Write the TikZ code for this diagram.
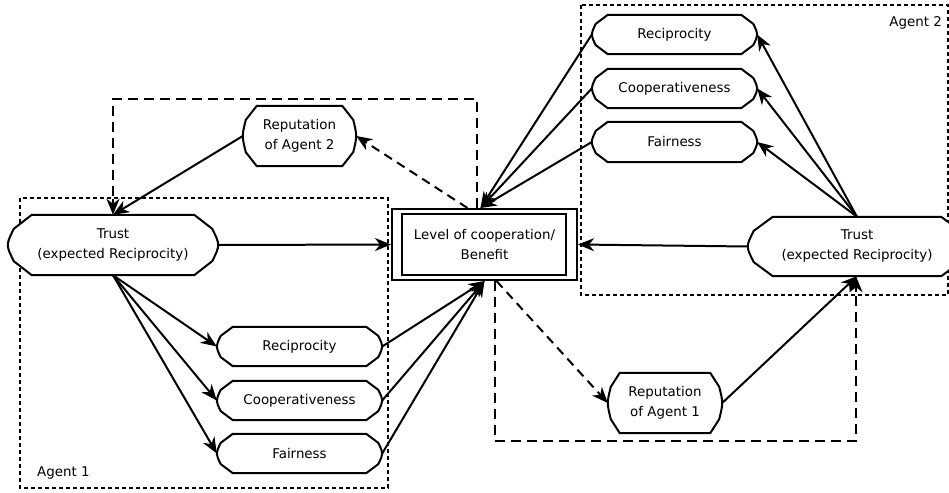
\documentclass[tikz,border=0pt]{standalone}
\usepackage{fontspec}
\setmainfont{DejaVu Sans}
\usetikzlibrary{arrows.meta,backgrounds}
\pgfdeclarelayer{shapes}
\pgfsetlayers{background,shapes,main}

\tikzset{
  lbl/.style={inner sep=0pt, align=center, font=\fontsize{13.4}{20}\selectfont},
  shapeline/.style={line width=2pt, fill=white, line join=miter},
  arr/.style={line width=2pt, -{Stealth[length=16pt,width=13pt,inset=5pt]}},
  dasharr/.style={arr, dash pattern=on 9pt off 6pt},
  agentbox/.style={line width=2pt, dash pattern=on 4pt off 3pt},
  loopline/.style={line width=2pt, dash pattern=on 10pt off 6pt},
}

% chamfered box with bulging sides: name, chamfer width, chamfer height, bulge
\newcommand\octo[4]{%
  \begin{pgfonlayer}{shapes}
  \draw[shapeline] ([xshift=#2pt]#1.north west) -- ([xshift=-#2pt]#1.north east)
    -- ([xshift=-#4pt,yshift=-#3pt]#1.north east)
    .. controls ([xshift={#4pt/3}]#1.east) and ([xshift={#4pt/3}]#1.east)
    .. ([xshift=-#4pt,yshift=#3pt]#1.south east)
    -- ([xshift=-#2pt]#1.south east) -- ([xshift=#2pt]#1.south west)
    -- ([xshift=#4pt,yshift=#3pt]#1.south west)
    .. controls ([xshift={-#4pt/3}]#1.west) and ([xshift={-#4pt/3}]#1.west)
    .. ([xshift=#4pt,yshift=-#3pt]#1.north west) -- cycle;
  \end{pgfonlayer}}

\begin{document}
\begin{tikzpicture}[x=1pt,y=-1pt]
\useasboundingbox (0,0) rectangle (949,492);

% agent frames
\begin{pgfonlayer}{background}
  \draw[agentbox] (20,198) rectangle (388,488);
  \draw[agentbox] (581,5) rectangle (948,295);
\end{pgfonlayer}
\node[lbl, anchor=west] (ag1) at (37,473) {Agent 1};
\node[lbl, anchor=east] (ag2) at (942,23) {Agent 2};

% central node
\node[lbl, draw, line width=2pt, minimum width=185pt, minimum height=71pt] (lv) at (484.5,244.5)
  {Level of cooperation/\\Benefit};
\draw[line width=2pt] ([xshift=11pt,yshift=-6pt]lv.north west) rectangle ([xshift=-12pt,yshift=6pt]lv.south east);

% trust nodes
\node[lbl, minimum width=210pt, minimum height=60pt] (t1) at (113,245) {Trust\\(expected Reciprocity)};
\octo{t1}{24}{14}{6}
\node[lbl, minimum width=218pt, minimum height=59pt] (t2) at (857,246.5) {Trust\\(expected Reciprocity)};
\octo{t2}{25}{14}{6}

% reputation nodes
\node[lbl, minimum width=113pt, minimum height=60pt] (rep2) at (299.5,136) {Reputation\\of Agent 2};
\octo{rep2}{14}{14}{3}
\node[lbl, minimum width=114pt, minimum height=60pt] (rep1) at (665,403) {Reputation\\of Agent 1};
\octo{rep1}{12}{14}{3}

% attribute nodes, agent 1
\node[lbl, minimum width=165pt, minimum height=39pt] (ra1) at (299.5,346.5) {Reciprocity};
\octo{ra1}{16}{9}{4}
\node[lbl, minimum width=165pt, minimum height=39pt] (ca1) at (299.5,400.5) {Cooperativeness};
\octo{ca1}{16}{9}{4}
\node[lbl, minimum width=165pt, minimum height=39pt] (fa1) at (299.5,453.5) {Fairness};
\octo{fa1}{16}{9}{4}

% attribute nodes, agent 2
\node[lbl, minimum width=165pt, minimum height=39pt] (ra2) at (674.5,34.5) {Reciprocity};
\octo{ra2}{16}{9}{4}
\node[lbl, minimum width=165pt, minimum height=39pt] (ca2) at (674.5,88.5) {Cooperativeness};
\octo{ca2}{16}{9}{4}
\node[lbl, minimum width=165pt, minimum height=40pt] (fa2) at (674.5,142) {Fairness};
\octo{fa2}{16}{9}{4}

% feedback loops
\coordinate (la) at (477,99);
\coordinate (lb) at (113,99);
\draw[loopline] (la |- lv.north) -- (la) -- (lb) -- (lb |- t1.north);
\draw[arr] ([yshift=16pt]lb |- t1.north) -- (t1.north);
\coordinate (lc) at (495,441);
\coordinate (ld) at (856,441);
\draw[loopline] (lc |- lv.south) -- (lc) -- (ld) -- (ld |- t2.south);
\draw[arr] ([yshift=-16pt]ld |- t2.south) -- (ld |- t2.south);

% agent 1 side
\draw[arr] (rep2.west) -- (t1.north);
\draw[arr] (t1.east) -- (lv.west);
\draw[arr] (t1.south) -- (ra1.west);
\draw[arr] (t1.south) -- (ca1.west);
\draw[arr] (t1.south) -- (fa1.west);
\draw[arr] (ra1.east) -- (lv.south);
\draw[arr] (ca1.east) -- (lv.south);
\draw[arr] (fa1.east) -- (lv.south);

% agent 2 side
\draw[arr] (t2.west) -- (lv.east);
\draw[arr] (t2.north) -- (ra2.east);
\draw[arr] (t2.north) -- (ca2.east);
\draw[arr] (t2.north) -- (fa2.east);
\draw[arr] (ra2.west) -- ([xshift=-4pt]lv.north);
\draw[arr] (ca2.west) -- ([xshift=-4pt]lv.north);
\draw[arr] (fa2.west) -- ([xshift=-4pt]lv.north);
\draw[arr] (rep1.east) -- (t2.south);

% reputation updates
\draw[dasharr] ([xshift=-17pt]lv.north) -- (rep2.east);
\draw[dasharr] ([xshift=12pt]lv.south) -- (rep1.west);
\end{tikzpicture}
\end{document}
